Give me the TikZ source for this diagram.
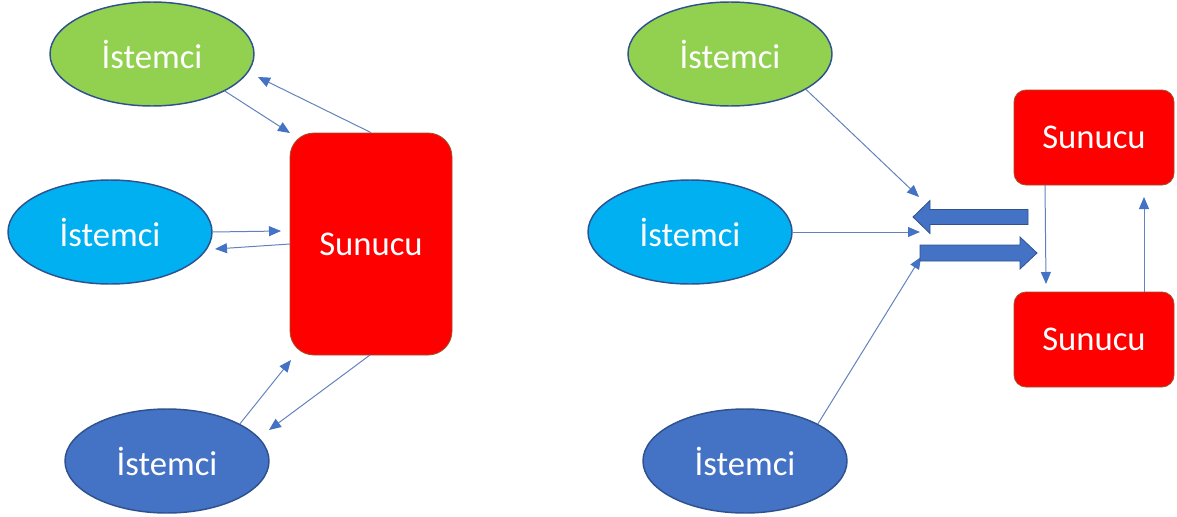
\documentclass[tikz,border=0pt]{standalone}
\usepackage{fontspec}
\setmainfont{Carlito}
\usetikzlibrary{arrows.meta,shapes.geometric}
\definecolor{cgreen}{HTML}{92D050}
\definecolor{ccyan}{HTML}{00B0F0}
\definecolor{cblue}{HTML}{4472C4}
\definecolor{cedge}{HTML}{2F528F}
\definecolor{cred}{HTML}{FF0000}
\definecolor{credge}{HTML}{A0522D}
\definecolor{cline}{HTML}{6382BC}
\tikzset{
  client/.style={ellipse,draw=cedge,line width=1.1pt,minimum width=153pt,minimum height=78pt,inner sep=0pt,text=white,font=\fontsize{26}{30}\selectfont},
  server/.style={rectangle,draw=credge,line width=0.6pt,fill=cred,inner sep=0pt,text=white,font=\fontsize{26}{30}\selectfont},
  conn/.style={draw=cline,line width=0.75pt,-{Triangle[length=9pt,width=7.5pt,color=cblue,fill=cblue]}},
  blockarrow/.style={fill=cblue,draw=cedge,line width=0.6pt,line join=miter}
}
\begin{document}
\begin{tikzpicture}[x=0.75pt,y=-0.75pt]
\useasboundingbox (0,0) rectangle (1177,517);
% left side
\node[client,fill=cgreen] (g1) at (152,54) {İstemci};
\node[client,fill=ccyan] (c1) at (110,232) {İstemci};
\node[client,fill=cblue] (b1) at (167,461) {İstemci};
\node[server,minimum width=121.5pt,minimum height=166.5pt,rounded corners=18pt] (sL) at (371,244) {Sunucu};
\coordinate (t1) at (290,133);
\coordinate (t2) at (258,77);
\coordinate (t3) at (281,231);
\coordinate (f4) at (290,244);
\coordinate (t4) at (215,249);
\coordinate (t5) at (291,360);
\coordinate (f6) at (370,355);
\coordinate (t6) at (269,430);
\draw[conn] (g1.-27.5) -- (t1);
\draw[conn] (sL.north) -- (t2);
\draw[conn] (c1.east) -- (t3);
\draw[conn] (f4) -- (t4);
\draw[conn] (b1.27.5) -- (t5);
\draw[conn] (f6) -- (t6);
% right side
\node[client,fill=cgreen] (g2) at (730,54) {İstemci};
\node[client,fill=ccyan] (c2) at (690,232) {İstemci};
\node[client,fill=cblue] (b2) at (745,461) {İstemci};
\node[server,minimum width=120pt,minimum height=71.25pt,rounded corners=9pt] (s1) at (1094,137.5) {Sunucu};
\node[server,minimum width=120pt,minimum height=71.25pt,rounded corners=9pt] (s2) at (1094,339.5) {Sunucu};
\coordinate (t7) at (919,197);
\coordinate (t8) at (920,232);
\coordinate (t9) at (921,257);
\coordinate (f12) at (1045,185);
\coordinate (t12) at (1046,284);
\coordinate (f13) at (1144,292);
\coordinate (t13) at (1144,197);
\draw[conn] (g2.-25.6) -- (t7);
\draw[conn] (c2.east) -- (t8);
\draw[conn] (b2.27.5) -- (t9);
\draw[conn] (f12) -- (t12);
\draw[conn] (f13) -- (t13);
% block arrows
\draw[blockarrow] (1028,209.5) -- (930,209.5) -- (930,200.5) -- (913,217) -- (930,233.5) -- (930,224.5) -- (1028,224.5) -- cycle;
\draw[blockarrow] (920,245) -- (1020,245) -- (1020,237) -- (1037,253) -- (1020,269) -- (1020,261) -- (920,261) -- cycle;
\end{tikzpicture}
\end{document}
